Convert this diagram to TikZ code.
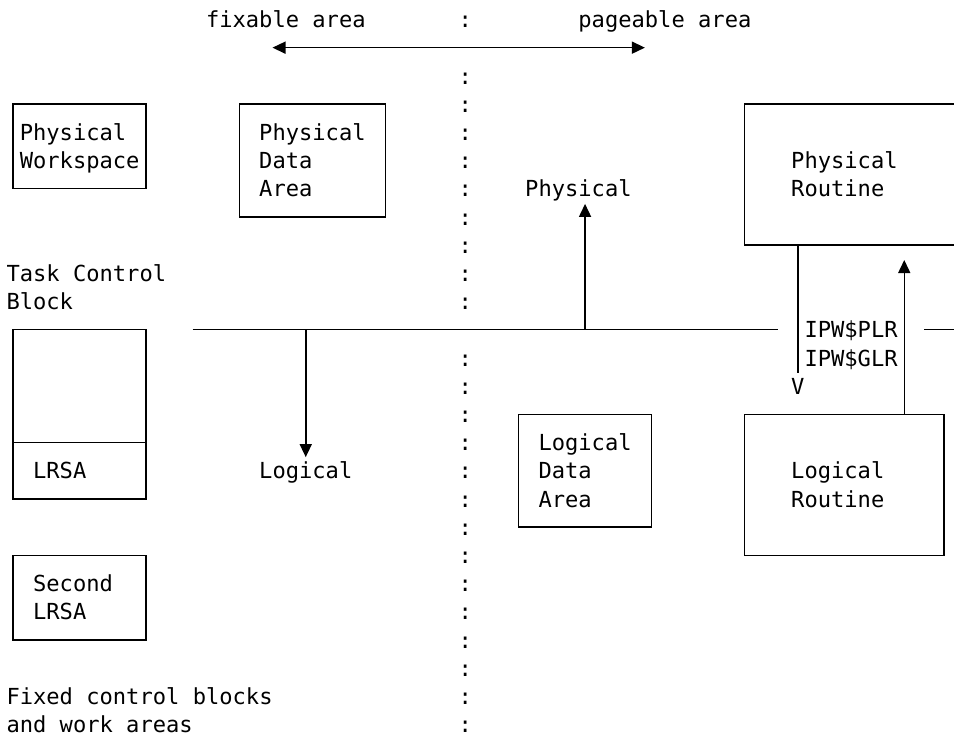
\documentclass[tikz,border=0pt]{standalone}
\usepackage{fontspec}
\setmonofont{DejaVu Sans Mono}
\usetikzlibrary{arrows.meta,fit}

% left-aligned block of lines whose baseline is the first line
\newcommand\stack[1]{\begin{tabular}[t]{@{}l@{}}#1\end{tabular}}

\tikzset{
  txt/.style={inner sep=0pt, outer sep=0pt, anchor=base west,
              font=\ttfamily\fontsize{22.1pt}{28.2pt}\selectfont},
  colon/.style={txt, anchor=base},
  boxn/.style={draw, inner sep=0pt, outer sep=0pt, line width=1.5pt},
  frame/.style={inner sep=0pt, outer sep=0pt},
  wire/.style={line width=1.5pt},
  tip/.tip={Triangle[width=12pt,length=13pt]},
  arr/.style={wire, -tip},
  dblarr/.style={wire, tip-tip},
}

\begin{document}
\begin{tikzpicture}[x=13.3pt, y=-28.2pt]
\path[use as bounding box, fill=white] (0pt,0pt) rectangle (954pt,-738pt);
% character grid: one unit = one column / one text line
\begin{scope}[shift={(6.5pt,-22pt)}]

  % header
  \node[txt] (fixable) at (15,0.2) {fixable area};
  \node[txt] (pageable) at (43,0.2) {pageable area};
  \coordinate (fixL) at (20,0.91);
  \coordinate (pagR) at (48,0.91);
  \draw[dblarr] (fixL) -- (pagR);

  % dotted divider between fixable and pageable areas
  \node[colon] (colon0) at (34.5,0.2) {:};
  \foreach \k in {2,...,10} \node[colon] (colon\k) at (34.5,\k+0.2) {:};
  \foreach \k in {12,...,25} \node[colon] (colon\k) at (34.5,\k+0.2) {:};

  % boxes
  \node[boxn, fit={(0.5,2.91) (10.5,5.91)}] (pw) {};
  \node[txt] (pwtext) at (1,4.2) {\stack{Physical\\Workspace}};

  \node[boxn, fit={(17.5,2.91) (28.5,6.91)}] (pda) {};
  \node[txt] (pdatext) at (19,4.2) {\stack{Physical\\Data\\Area}};

  \node[frame, fit={(55.5,2.91) (71.4,7.91)}] (pr) {};
  \draw[wire] (pr.north east) -- (pr.north west) -- (pr.south west) -- (pr.south east);
  \node[txt] (prtext) at (59,5.2) {\stack{Physical\\Routine}};

  \node[txt] (tcbtext) at (0,9.2) {\stack{Task Control\\Block}};
  \node[boxn, fit={(0.5,10.91) (10.5,16.91)}] (tcb) {};
  \coordinate (tcbdiv) at (0,14.91);
  \draw[wire] (tcb.west |- tcbdiv) -- (tcb.east |- tcbdiv);
  \node[txt] (lrsa) at (2,16.2) {LRSA};

  \node[boxn, fit={(0.5,18.91) (10.5,21.91)}] (lrsa2) {};
  \node[txt] (lrsa2text) at (2,20.2) {\stack{Second\\LRSA}};

  \node[boxn, fit={(38.5,13.91) (48.5,17.91)}] (lda) {};
  \node[txt] (ldatext) at (40,15.2) {\stack{Logical\\Data\\Area}};

  \node[boxn, fit={(55.5,13.91) (70.5,18.91)}] (lr) {};
  \node[txt] (lrtext) at (59,16.2) {\stack{Logical\\Routine}};

  \node[txt] (fixedtext) at (0,24.2) {\stack{Fixed control blocks\\and work areas}};

  % main line
  \coordinate (busL) at (14,10.91);
  \coordinate (busM) at (58,10.91);
  \coordinate (busN) at (69,10.91);
  \coordinate (busR) at (71.4,10.91);
  \draw[wire] (busL) -- (busM);
  \draw[wire] (busN) -- (busR);

  % physical / logical branches
  \node[txt] (physlbl) at (39,6.2) {Physical};
  \coordinate (phystip) at (43.5,6.45);
  \draw[arr] (phystip |- busL) -- (phystip);

  \node[txt] (loglbl) at (19,16.2) {Logical};
  \coordinate (logtip) at (22.5,15.43);
  \draw[arr] (logtip |- busL) -- (logtip);

  % calls between the routines
  \coordinate (downend) at (59.5,12.45);
  \draw[wire] (pr.south -| downend) -- (downend);
  \node[txt] (vmark) at (59,13.2) {V};
  \coordinate (uptip) at (67.5,8.44);
  \draw[arr] (lr.north -| uptip) -- (uptip);
  \node[txt] (ipw) at (60,11.2) {\stack{IPW\$PLR\\IPW\$GLR}};

\end{scope}
\end{tikzpicture}
\end{document}
